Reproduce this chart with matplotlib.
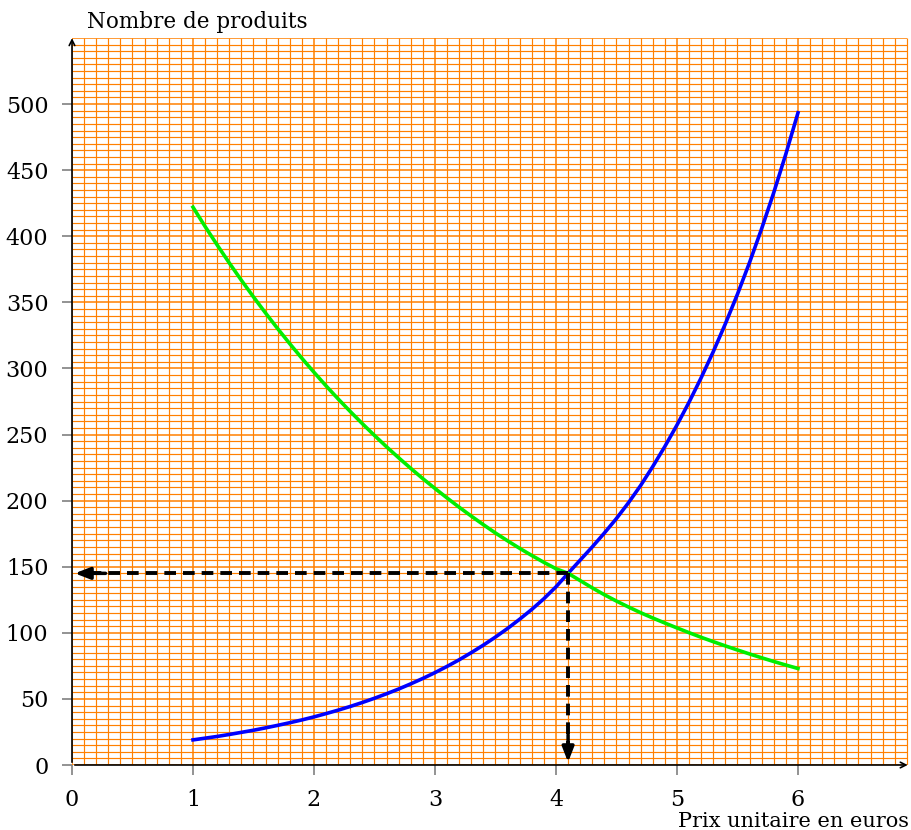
import numpy as np
import matplotlib
matplotlib.use('Agg')
import matplotlib.pyplot as plt

# Valeurs (pas de 0,1 euro)
prix = np.round(np.arange(1.0, 6.01, 0.1), 1)
offre = [19.0, 20.3, 21.6, 23.1, 24.7, 26.3, 28.1, 30.0, 32.0, 34.1,
         36.4, 38.9, 41.5, 44.3, 47.3, 50.5, 53.9, 57.5, 61.4, 65.5,
         69.9, 74.6, 79.6, 85.0, 90.7, 96.8, 103.3, 110.3, 117.7, 125.8,
         134.8, 145.0, 155.0, 165.0, 175.5, 186.5, 198.5, 211.5, 225.8, 241.0,
         257.2, 274.5, 293.0, 312.7, 333.8, 356.2, 380.2, 405.8, 433.1, 462.3,
         493.4]
demande = [422.0, 407.4, 393.4, 379.8, 366.7, 354.1, 341.9, 330.1, 318.7, 307.7,
           297.1, 286.8, 276.9, 267.4, 258.2, 249.3, 240.7, 232.4, 224.4, 216.6,
           209.2, 202.0, 195.0, 188.3, 181.8, 175.5, 169.6, 163.9, 158.5, 153.3,
           148.5, 145.0, 139.5, 134.0, 128.8, 124.0, 119.5, 115.2, 111.2, 107.4,
           103.7, 100.1, 96.6, 93.3, 90.1, 87.0, 84.0, 81.1, 78.3, 75.6,
           73.0]
x_eq, y_eq = 4.1, 145
x_ticks = [0, 1, 2, 3, 4, 5, 6]
y_ticks = [0, 50, 100, 150, 200, 250, 300, 350, 400, 450, 500]

plt.rcParams['font.family'] = ['DejaVu Serif']

fig = plt.figure(figsize=(9.11, 8.30), dpi=100)
ax = fig.add_axes([72 / 911, 65 / 830, 838.5 / 911, 727 / 830])
ax.set_xlim(0, 6.93)
ax.set_ylim(0, 550)
for s in ax.spines.values():
    s.set_visible(False)

orange = '#FF8000'
# grille millimétrée
for i in range(70):
    xv = i / 10
    ax.plot([xv, xv], [0, 550], color=orange, lw=1.1 if i % 10 == 0 else 0.85,
            zorder=1, solid_capstyle='butt')
for j in range(111):
    yv = j * 5
    ax.plot([0, 6.9], [yv, yv], color=orange, lw=1.1 if j % 10 == 0 else 0.85,
            zorder=1, solid_capstyle='butt')

# axes avec flèches
ax.annotate('', xy=(6.93, 0), xytext=(0, 0),
            arrowprops=dict(arrowstyle='->', color='black', lw=1.2),
            annotation_clip=False, zorder=4)
ax.annotate('', xy=(0, 552), xytext=(0, 0),
            arrowprops=dict(arrowstyle='->', color='black', lw=1.2),
            annotation_clip=False, zorder=4)

ax.set_xticks(x_ticks)
ax.set_yticks(y_ticks)
ax.tick_params(axis='both', direction='out', color='grey', length=7,
               width=1.2, labelsize=16)
ax.tick_params(axis='x', pad=10)
ax.tick_params(axis='y', pad=10)

# courbes
ax.plot(prix, offre, color='#0000FF', lw=2.6, zorder=3)
ax.plot(prix, demande, color='#00EE00', lw=2.6, zorder=3)

# lecture graphique en pointillés
ax.plot([x_eq, 0.08], [y_eq, y_eq], color='black', lw=2.8,
        ls=(0, (3, 1.8)), zorder=4)
ax.plot([x_eq, x_eq], [y_eq, 6], color='black', lw=2.8,
        ls=(0, (3, 1.8)), zorder=4)
ax.annotate('', xy=(0.0, y_eq), xytext=(0.3, y_eq),
            arrowprops=dict(arrowstyle='-|>,head_length=0.9,head_width=0.35',
                            color='black', lw=2.5), zorder=5)
ax.annotate('', xy=(x_eq, 0), xytext=(x_eq, 25),
            arrowprops=dict(arrowstyle='-|>,head_length=0.9,head_width=0.35',
                            color='black', lw=2.5), zorder=5)

fig.text(87 / 911, 1 - 22 / 830, 'Nombre de produits', fontsize=15.5,
         ha='left', va='center')
fig.text(678 / 911, 1 - 821 / 830, 'Prix unitaire en euros', fontsize=15,
         ha='left', va='center')

fig.savefig('out.png', dpi=100)
